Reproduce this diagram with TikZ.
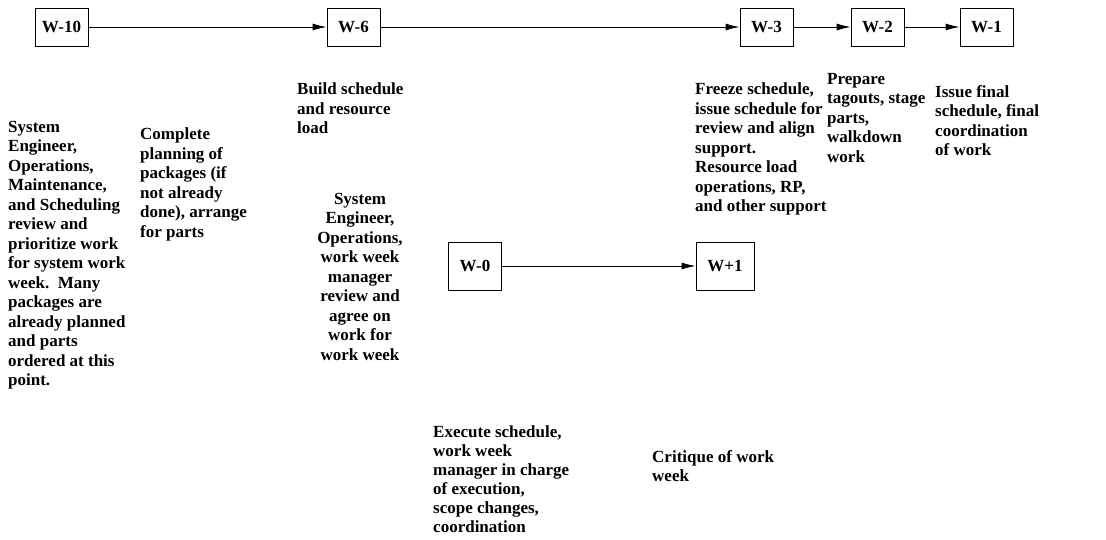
\documentclass[tikz,border=0pt]{standalone}
\usepackage{fontspec}
\setmainfont{Liberation Serif}
\usetikzlibrary{arrows.meta}
\begin{document}
\begin{tikzpicture}[x=1pt,y=-1pt,
  fnt/.style={font=\fontsize{17}{19.5}\selectfont\bfseries},
  wk/.style={fnt, draw, line width=0.9pt, minimum width=53pt, minimum height=38pt, inner sep=0pt},
  wkl/.style={wk, minimum height=48pt},
  txt/.style={fnt, anchor=north west, inner sep=0pt, align=left},
  ctxt/.style={fnt, anchor=north, inner sep=0pt, align=center},
  conn/.style={-{Latex[length=14pt,width=7pt]}, line width=0.9pt}]
\useasboundingbox (0,0) rectangle (1106,540);
% boxes
\node[wk] (w10) at (61.5,27) {W-10};
\node[wk] (w6)  at (353.5,27) {W-6};
\node[wk] (w3)  at (766.5,27) {W-3};
\node[wk] (w2)  at (877.5,27) {W-2};
\node[wk] (w1)  at (986.5,27) {W-1};
\node[wkl] (w0)  at (475,266) {W-0};
\node[wkl, minimum width=58pt] (wp1) at (725,266) {W+1};
% connectors
\draw[conn] (w10) -- (w6);
\draw[conn] (w6) -- (w3);
\draw[conn] (w3) -- (w2);
\draw[conn] (w2) -- (w1);
\draw[conn] (w0) -- (wp1);
% texts
\node[txt] (ta) at (8,121) {System\\Engineer,\\Operations,\\Maintenance,\\and Scheduling\\review and\\prioritize work\\for system work\\week.\ \ Many\\packages are\\already planned\\and parts\\ordered at this\\point.};
\node[txt] (tb) at (140,128) {Complete\\planning of\\packages (if\\not already\\done), arrange\\for parts};
\node[txt] (tc) at (297,83) {Build schedule\\and resource\\load};
\node[ctxt] (td) at (360,193) {System\\Engineer,\\Operations,\\work week\\manager\\review and\\agree on\\work for\\work week};
\node[txt] (te) at (695,83) {Freeze schedule,\\issue schedule for\\review and align\\support.\\Resource load\\operations, RP,\\and other support};
\node[txt] (tf) at (827,73) {Prepare\\tagouts, stage\\parts,\\walkdown\\work};
\node[txt] (tg) at (935,85) {Issue final\\schedule, final\\coordination\\of work};
\node[txt,font=\fontsize{17}{19}\selectfont\bfseries] (th) at (433,426) {Execute schedule,\\work week\\manager in charge\\of execution,\\scope changes,\\coordination};
\node[txt] (ti) at (652,450) {Critique of work\\week};
\end{tikzpicture}
\end{document}
